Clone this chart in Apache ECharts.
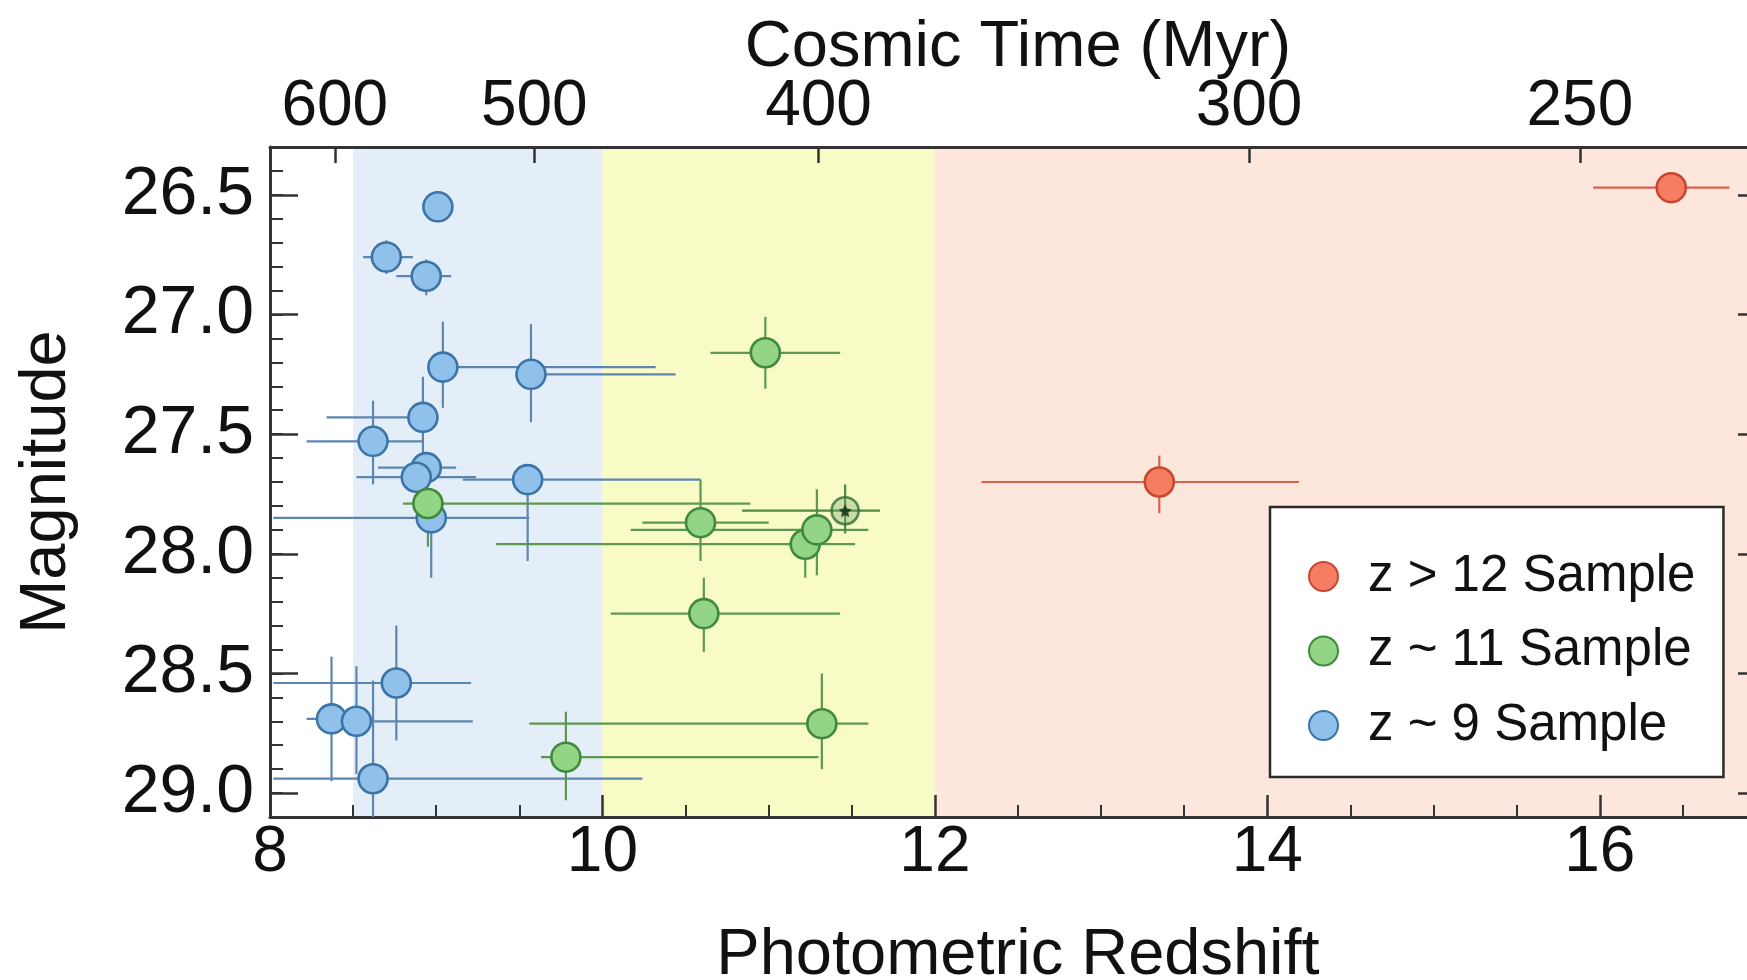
<!DOCTYPE html>
<html><head><meta charset="utf-8">
<script src="https://cdn.jsdelivr.net/npm/echarts@6/dist/echarts.min.js"></script>
<style>html,body{margin:0;padding:0;background:#fff}#chart{width:1747px;height:980px}</style>
</head><body><div id="chart"></div>
<script>
// columns: redshift, magnitude, redshiftLow, redshiftHigh, magLow, magHigh
const highZSample = [
  [16.43, 26.47, 15.96, 16.78, 26.43, 26.51],
  [13.35, 27.70, 12.28, 14.19, 27.59, 27.83]
];
const z11Sample = [
  [10.98, 27.16, 10.65, 11.43, 27.01, 27.31],
  [8.95, 27.79, 8.80, 10.89, 27.75, 27.97],
  [10.59, 27.87, 10.24, 11.00, 27.69, 28.03],
  [11.22, 27.96, 9.36, 11.52, 27.89, 28.10],
  [11.29, 27.90, 10.17, 11.60, 27.73, 28.09],
  [10.61, 28.25, 10.05, 11.43, 28.10, 28.41],
  [11.32, 28.71, 9.56, 11.60, 28.50, 28.90],
  [9.78, 28.85, 9.63, 11.30, 28.66, 29.03]
];
const flaggedSource = [
  [11.46, 27.82, 10.84, 11.67, 27.71, 27.915]
];
const z9Sample = [
  [9.01, 26.55, 8.97, 9.05, 26.52, 26.58],
  [8.70, 26.76, 8.56, 8.86, 26.69, 26.83],
  [8.94, 26.84, 8.76, 9.09, 26.77, 26.92],
  [9.04, 27.22, 9.00, 10.32, 27.03, 27.39],
  [9.57, 27.25, 9.52, 10.44, 27.04, 27.45],
  [8.92, 27.43, 8.34, 8.98, 27.26, 27.60],
  [8.62, 27.53, 8.22, 8.92, 27.36, 27.71],
  [8.94, 27.64, 8.65, 9.12, 27.58, 27.70],
  [8.88, 27.68, 8.52, 9.24, 27.62, 27.74],
  [9.55, 27.69, 9.16, 10.59, 27.66, 28.03],
  [8.97, 27.85, 8.02, 9.56, 27.75, 28.10],
  [8.76, 28.54, 8.02, 9.21, 28.30, 28.78],
  [8.37, 28.69, 8.22, 8.50, 28.43, 28.95],
  [8.52, 28.70, 8.45, 9.22, 28.47, 28.92],
  [8.62, 28.94, 8.02, 10.24, 28.53, 29.15]
];
const bandRanges = [[8.5, 10], [10, 12], [12, 17]];
const xRange = [8, 17];
const yRange = [26.3, 29.1];
const xTickValues = [8, 10, 12, 14, 16];
const yTickValues = [26.5, 27.0, 27.5, 28.0, 28.5, 29.0];
const cosmicTimeTickZ = [8.39, 9.59, 11.30, 13.89, 15.88];
const cosmicTimeLabels = ['600', '500', '400', '300', '250'];
const sampleNames = ['z > 12 Sample', 'z ~ 11 Sample', 'z ~ 9 Sample'];

const bandColors = ['#e4eef9', '#f8fbc6', '#fde6dc'];
const FONT = 'Liberation Sans, Arial, Helvetica, sans-serif';
const frameColor = '#333';

function errRender(color) {
  return function (params, api) {
    const z = api.value(0), m = api.value(1), zl = api.value(2), zh = api.value(3), ml = api.value(4), mh = api.value(5);
    const a = api.coord([zl, m]), b = api.coord([zh, m]), c = api.coord([z, ml]), d = api.coord([z, mh]);
    return { type: 'group', children: [
      { type: 'line', shape: { x1: a[0], y1: a[1], x2: b[0], y2: b[1] }, style: { stroke: color, lineWidth: 2.2 } },
      { type: 'line', shape: { x1: c[0], y1: c[1], x2: d[0], y2: d[1] }, style: { stroke: color, lineWidth: 2.2 } }
    ] };
  };
}
function errSeries(data, color) {
  return { type: 'custom', renderItem: errRender(color), data: data, encode: { x: 0, y: 1 },
    clip: true, z: 2, silent: true, xAxisIndex: 0, yAxisIndex: 0 };
}
function markerSeries(name, data, fill, border) {
  return { type: 'scatter', name: name, data: data.map(r => [r[0], r[1]]), symbol: 'circle', symbolSize: 29,
    itemStyle: { color: fill, borderColor: border, borderWidth: 2.6, opacity: 1 }, z: 4, xAxisIndex: 0, yAxisIndex: 0 };
}

const chart = echarts.init(document.getElementById('chart'), null, { renderer: 'canvas' });
const tickLabelStyle = { fontFamily: FONT, fontSize: 64, color: '#111' };
const nameStyle = { fontFamily: FONT, fontSize: 65, color: '#111' };

chart.setOption({
  animation: false,
  backgroundColor: '#fff',
  grid: { left: 270, top: 147, right: -19, bottom: 163, containLabel: false, outerBoundsMode: 'none' },
  legend: {
    data: sampleNames, orient: 'vertical', left: 1270, top: 507,
    backgroundColor: '#fff', borderColor: '#2a2a2a', borderWidth: 2.5, borderRadius: 0,
    padding: [44, 28, 26, 38], itemWidth: 29, itemHeight: 29, itemGap: 23.5,
    icon: 'circle',
    textStyle: { fontFamily: FONT, fontSize: 51, color: '#111', lineHeight: 50, padding: [0, 0, 0, 25] }
  },
  xAxis: [
    { type: 'value', position: 'bottom', min: xRange[0], max: xRange[1], interval: 2,
      name: 'Photometric Redshift', nameLocation: 'middle', nameGap: 107, nameTextStyle: nameStyle,
      axisLine: { show: true, onZero: false, lineStyle: { color: frameColor, width: 3 } },
      axisTick: { show: true, inside: true, length: 22, customValues: xTickValues, lineStyle: { color: frameColor, width: 2.5 } },
      minorTick: { show: true, splitNumber: 4, length: 12, lineStyle: { color: frameColor, width: 2 } },
      axisLabel: { show: true, margin: 4, customValues: xTickValues, formatter: v => String(Math.round(v)), ...tickLabelStyle },
      splitLine: { show: false }, minorSplitLine: { show: false } },
    { type: 'value', position: 'top', min: xRange[0], max: xRange[1],
      name: 'Cosmic Time (Myr)', nameLocation: 'middle', nameGap: 66, nameMoveOverlap: false, nameTextStyle: nameStyle,
      axisLine: { show: true, onZero: false, lineStyle: { color: frameColor, width: 3 } },
      axisTick: { show: true, inside: true, length: 16, customValues: cosmicTimeTickZ, lineStyle: { color: frameColor, width: 2.5 } },
      axisLabel: { show: true, margin: 8, customValues: cosmicTimeTickZ, ...tickLabelStyle,
        formatter: function (v) {
          let best = 0;
          cosmicTimeTickZ.forEach((t, i) => { if (Math.abs(t - v) < Math.abs(cosmicTimeTickZ[best] - v)) best = i; });
          return cosmicTimeLabels[best];
        } },
      splitLine: { show: false } }
  ],
  yAxis: [
    { type: 'value', position: 'left', inverse: true, min: yRange[0], max: yRange[1],
      name: 'Magnitude', nameLocation: 'middle', nameGap: 190, nameTextStyle: nameStyle, nameRotate: 90,
      axisLine: { show: true, onZero: false, lineStyle: { color: frameColor, width: 3 } },
      axisTick: { show: true, inside: true, length: 28, customValues: yTickValues, lineStyle: { color: frameColor, width: 2.5 } },
      axisLabel: { show: true, margin: 16, customValues: yTickValues, formatter: v => v.toFixed(1), ...tickLabelStyle, fontSize: 68 },
      splitLine: { show: false } },
    { type: 'value', position: 'left', inverse: true, min: yRange[0], max: yRange[1], interval: 0.1,
      axisLine: { show: false },
      axisTick: { show: true, inside: true, length: 13, lineStyle: { color: frameColor, width: 2 } },
      axisLabel: { show: false }, splitLine: { show: false } },
    { type: 'value', position: 'right', inverse: true, min: yRange[0], max: yRange[1],
      axisLine: { show: true, onZero: false, lineStyle: { color: frameColor, width: 3 } },
      axisTick: { show: true, inside: true, length: 28, customValues: yTickValues, lineStyle: { color: frameColor, width: 2.5 } },
      axisLabel: { show: false }, splitLine: { show: false } },
    { type: 'value', position: 'right', inverse: true, min: yRange[0], max: yRange[1], interval: 0.1,
      axisLine: { show: false },
      axisTick: { show: true, inside: true, length: 13, lineStyle: { color: frameColor, width: 2 } },
      axisLabel: { show: false }, splitLine: { show: false } }
  ],
  series: [
    { type: 'custom', name: 'bands', silent: true, z: 0, clip: true,
      data: bandRanges.map((r, i) => [r[0], r[1], i]),
      encode: { x: [0, 1] },
      renderItem: function (params, api) {
        const x0 = api.coord([api.value(0), yRange[0]])[0];
        const x1 = api.coord([api.value(1), yRange[0]])[0];
        const cs = params.coordSys;
        return { type: 'rect', shape: { x: x0, y: cs.y, width: x1 - x0, height: cs.height },
          style: { fill: bandColors[api.value(2)] } };
      } },
    errSeries(z9Sample, '#5c86b0'),
    errSeries(z11Sample, '#5e9850'),
    errSeries(flaggedSource, '#4f8a45'),
    errSeries(highZSample, '#d8624c'),
    markerSeries(sampleNames[2], z9Sample, '#8fc1eb', '#3c74a8'),
    markerSeries(sampleNames[1], z11Sample, '#93d584', '#3f8a3c'),
    { type: 'scatter', name: 'flagged', data: flaggedSource.map(r => [r[0], r[1]]), symbol: 'circle', symbolSize: 27,
      itemStyle: { color: 'rgba(120,170,110,0.45)', borderColor: '#2f6e32', borderWidth: 2.6 }, z: 5 },
    { type: 'scatter', name: 'flaggedStar', data: flaggedSource.map(r => [r[0], r[1]]),
      symbol: 'path://M0,-10L2.9,-4L9.5,-3.1L4.7,1.5L5.9,8.1L0,5L-5.9,8.1L-4.7,1.5L-9.5,-3.1L-2.9,-4Z', symbolSize: 13,
      itemStyle: { color: '#0d2a10' }, z: 6 },
    markerSeries(sampleNames[0], highZSample, '#f67d64', '#c8472f')
  ]
});
</script></body></html>
